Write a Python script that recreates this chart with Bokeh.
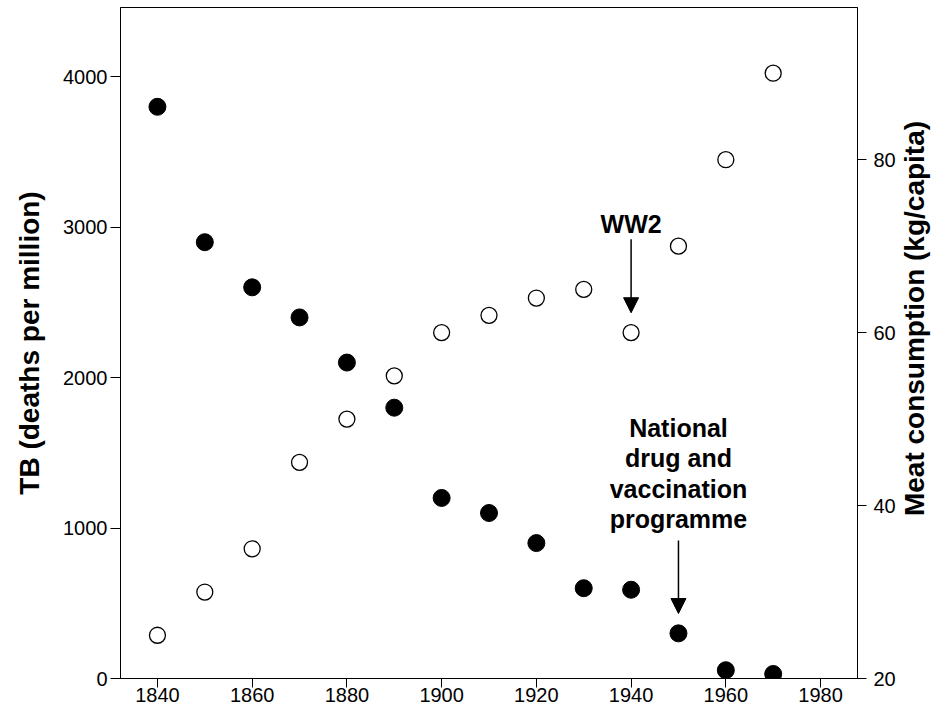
import math
from bokeh.plotting import figure
from bokeh.models import Range1d, LinearAxis, FixedTicker, Arrow, NormalHead, Label
from bokeh.embed import file_html
from bokeh.resources import INLINE

# ---- data ----
years = [1840, 1850, 1860, 1870, 1880, 1890, 1900, 1910, 1920, 1930, 1940, 1950, 1960, 1970]
tb_deaths = [3800, 2900, 2600, 2400, 2100, 1800, 1200, 1100, 900, 600, 590, 300, 55, 30]
meat_kg = [25, 30, 35, 45, 50, 55, 60, 62, 64, 65, 60, 70, 80, 90]

x_ticks = [1840, 1860, 1880, 1900, 1920, 1940, 1960, 1980]
tb_ticks = [0, 1000, 2000, 3000, 4000]
meat_ticks = [20, 40, 60, 80]

FONT = "Liberation Sans"
TITLE_SIZE = "28px"
X0, X1 = 1832.2, 1987.8
M0, M1 = 20, 97.6

p = figure(width=938, height=716, output_backend="svg", toolbar_location=None,
           x_range=Range1d(X0, X1), y_range=Range1d(0, 4460),
           min_border_left=120, min_border_right=81, min_border_top=7, min_border_bottom=38)
p.extra_y_ranges = {"meat": Range1d(M0, M1)}
p.grid.visible = False
p.outline_line_color = "black"
p.outline_line_width = 1
p.background_fill_color = "white"
p.border_fill_color = "white"

def style_axis(ax, tick_out, label_standoff, title_standoff):
    ax.axis_line_color = "black"
    ax.axis_line_width = 1
    ax.major_tick_line_color = "black"
    ax.major_tick_in = 0
    ax.major_tick_out = tick_out
    ax.minor_tick_line_color = None
    ax.major_label_text_font = FONT
    ax.major_label_text_font_size = "20px"
    ax.major_label_text_color = "black"
    ax.major_label_standoff = label_standoff
    ax.axis_label_text_font = FONT
    ax.axis_label_text_font_size = TITLE_SIZE
    ax.axis_label_text_font_style = "bold"
    ax.axis_label_text_color = "black"
    ax.axis_label_standoff = title_standoff

# x axis
xa = p.xaxis[0]
xa.ticker = FixedTicker(ticks=x_ticks)
style_axis(xa, 9, 0, 0)

# left axis
ya = p.yaxis[0]
ya.ticker = FixedTicker(ticks=tb_ticks)
ya.axis_label = "TB (deaths per million)"
style_axis(ya, 10, 3, 15)

# right axis (title drawn as a rotated label so it reads bottom-to-top)
ra = LinearAxis(y_range_name="meat")
ra.ticker = FixedTicker(ticks=meat_ticks)
style_axis(ra, 9, 7, 6)
p.add_layout(ra, "right")
p.add_layout(Label(x=16, y=360, x_units="screen", y_units="screen",
                   text="Meat consumption (kg/capita)", angle=math.pi / 2,
                   text_font=FONT, text_font_size=TITLE_SIZE, text_font_style="bold",
                   text_align="center", text_baseline="middle", text_color="black"), "right")

# series
p.scatter(years, tb_deaths, size=17, fill_color="black", line_color="black")
p.scatter(years, meat_kg, size=16, fill_color="white", line_color="black", line_width=1.3,
          y_range_name="meat")

# annotations
ww2_year = 1940
ww2_arrow = (70.8, 62.3)   # meat units
ww2_text_y = 72.6
p.add_layout(Arrow(end=NormalHead(size=15, fill_color="black", line_color="black"),
                   x_start=ww2_year, y_start=ww2_arrow[0], x_end=ww2_year, y_end=ww2_arrow[1],
                   line_color="black", line_width=1.5, y_range_name="meat"))
p.add_layout(Label(x=ww2_year, y=ww2_text_y, y_range_name="meat", text="WW2",
                   text_font=FONT, text_font_size="25px", text_font_style="bold",
                   text_align="center", text_baseline="alphabetic", text_color="black"))

prog_year = 1950
prog_arrow = (917, 432)    # TB units
prog_text_y = 1668
prog_lines = ["National", "drug and", "vaccination", "programme"]
p.add_layout(Arrow(end=NormalHead(size=15, fill_color="black", line_color="black"),
                   x_start=prog_year, y_start=prog_arrow[0], x_end=prog_year, y_end=prog_arrow[1],
                   line_color="black", line_width=1.5))
for i, line in enumerate(prog_lines):
    p.add_layout(Label(x=prog_year, y=prog_text_y, y_offset=-30.5 * i, text=line,
                       text_font=FONT, text_font_size="25px", text_font_style="bold",
                       text_align="center", text_baseline="alphabetic", text_color="black"))

open("out.html", "w").write(file_html(p, INLINE))
